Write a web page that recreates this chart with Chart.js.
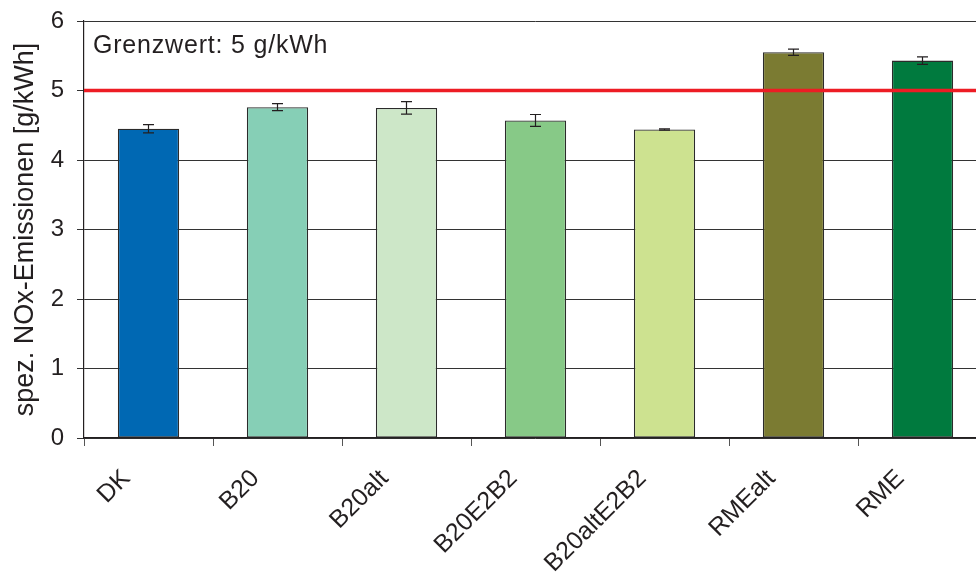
<!DOCTYPE html>
<html>
<head>
<meta charset="utf-8">
<script src="https://cdn.jsdelivr.net/npm/chart.js@4"></script>
<style>
  html, body { margin: 0; padding: 0; background: #fff; overflow: hidden; }
  #wrap { width: 988px; height: 581px; }
</style>
</head>
<body>
<div id="wrap"><canvas id="chartNox" width="988" height="581"></canvas></div>
<script>
// Kraftstoffe und spez. NOx-Emissionen
const fuels = ['DK', 'B20', 'B20alt', 'B20E2B2', 'B20altE2B2', 'RMEalt', 'RME'];
const noxValues = [4.45, 4.76, 4.75, 4.57, 4.44, 5.55, 5.43];
const noxErrors = [0.06, 0.05, 0.09, 0.085, 0.01, 0.045, 0.055];
const barColors = ['#0068b3', '#86cfb6', '#cde7c8', '#87c987', '#cde290', '#7b7b32', '#007a3e'];
const yTicks = [0, 1, 2, 3, 4, 5, 6];
const limitValue = 5;
const limitLabel = 'Grenzwert: 5 g/kWh';

const ink = '#231f20';
const fontFamily = '"Liberation Sans", Arial, Helvetica, sans-serif';

const errorBars = {
  id: 'errorBars',
  afterDatasetsDraw(chart) {
    const { ctx, scales } = chart;
    const meta = chart.getDatasetMeta(0);
    ctx.save();
    ctx.strokeStyle = ink;
    ctx.lineWidth = 1.2;
    meta.data.forEach((bar, i) => {
      const yHi = scales.y.getPixelForValue(noxValues[i] + noxErrors[i]);
      const yLo = scales.y.getPixelForValue(noxValues[i] - noxErrors[i]);
      const cap = 5.5;
      ctx.beginPath();
      ctx.moveTo(bar.x, yHi); ctx.lineTo(bar.x, yLo);
      ctx.moveTo(bar.x - cap, yHi); ctx.lineTo(bar.x + cap, yHi);
      ctx.moveTo(bar.x - cap, yLo); ctx.lineTo(bar.x + cap, yLo);
      ctx.stroke();
    });
    ctx.restore();
  },
};

const limitLine = {
  id: 'limitLine',
  afterDatasetsDraw(chart) {
    const { ctx, chartArea, scales } = chart;
    const y = scales.y.getPixelForValue(limitValue);
    ctx.save();
    ctx.strokeStyle = '#ed1c24';
    ctx.lineWidth = 3.5;
    ctx.beginPath();
    ctx.moveTo(chartArea.left, y);
    ctx.lineTo(chartArea.right, y);
    ctx.stroke();
    ctx.fillStyle = ink;
    ctx.font = '25px ' + fontFamily;
    ctx.letterSpacing = '0.8px';
    ctx.textBaseline = 'alphabetic';
    ctx.fillText(limitLabel, chartArea.left + 9, 53);
    ctx.restore();
  },
};

new Chart(document.getElementById('chartNox'), {
  type: 'bar',
  data: {
    labels: fuels,
    datasets: [
      {
        data: noxValues,
        backgroundColor: barColors,
        borderColor: '#2b2b2b',
        borderWidth: 1.3,
        borderSkipped: false,
        barPercentage: 0.475,
        categoryPercentage: 1,
      },
    ],
  },
  options: {
    responsive: false,
    animation: false,
    layout: { padding: { top: 21, right: 1, left: 0, bottom: 0 } },
    plugins: { legend: { display: false }, tooltip: { enabled: false } },
    scales: {
      x: {
        grid: { drawOnChartArea: false, drawTicks: true, tickLength: 8, color: '#555555', offset: true },
        border: { color: ink, width: 1.2 },
        ticks: {
          color: ink,
          font: { size: 25, family: fontFamily },
          minRotation: 45,
          maxRotation: 45,
          padding: 18,
          labelOffset: -22,
        },
        afterFit(scale) { scale.height = 143; },
      },
      y: {
        min: 0,
        max: 6,
        afterBuildTicks(scale) { scale.ticks = yTicks.map((v) => ({ value: v })); },
        grid: { color: '#333333', lineWidth: 1, tickLength: 7 },
        border: { color: ink, width: 1.2 },
        ticks: {
          color: ink,
          font: { size: 24, family: fontFamily },
          padding: 13,
        },
        title: {
          display: true,
          text: 'spez. NOx-Emissionen [g/kWh]',
          color: ink,
          font: { size: 27, family: fontFamily },
          padding: { top: 9, bottom: 0 },
        },
        afterFit(scale) { scale.width = 84; scale.paddingTop = 0; scale.paddingBottom = 0; },
      },
    },
  },
  plugins: [limitLine, errorBars],
});
</script>
</body>
</html>
